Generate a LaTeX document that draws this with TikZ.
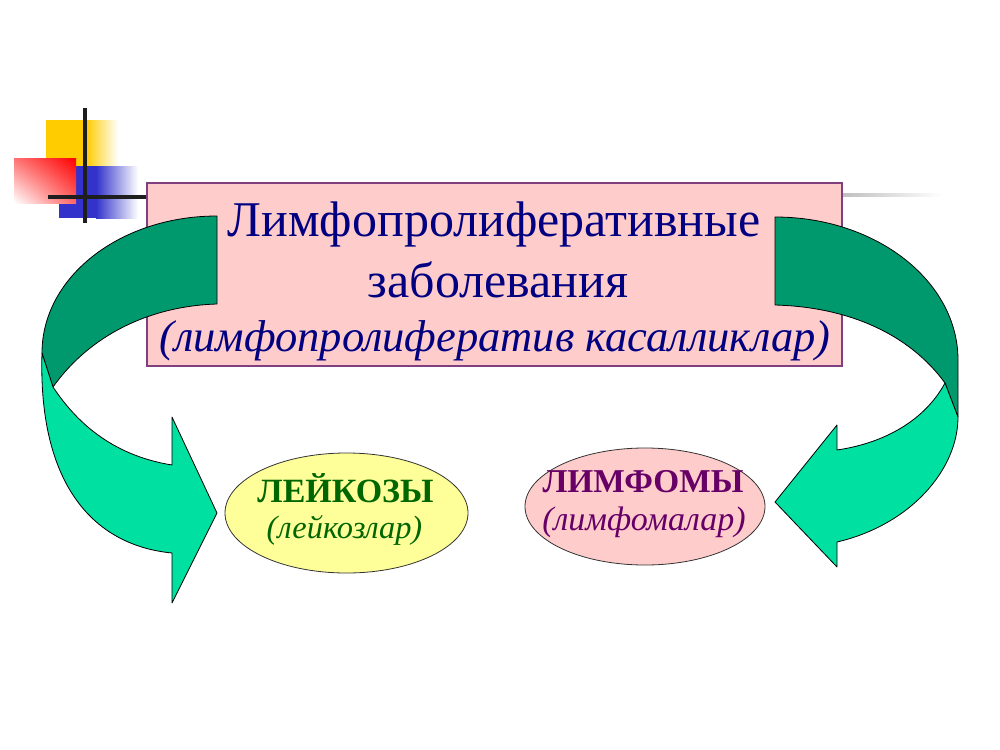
\documentclass[tikz,border=0pt]{standalone}
\usepackage{fontspec}
\setmainfont{Liberation Serif}
\usetikzlibrary{shapes.geometric,shadings}
\definecolor{boxpink}{RGB}{255,204,204}
\definecolor{boxborder}{RGB}{128,64,128}
\definecolor{titleblue}{RGB}{0,0,128}
\definecolor{darkgr}{RGB}{0,153,110}
\definecolor{lightgr}{RGB}{0,224,160}
\definecolor{ellyellow}{RGB}{255,255,153}
\definecolor{txtgreen}{RGB}{0,102,0}
\definecolor{txtpurple}{RGB}{102,0,102}
\definecolor{decoyellow}{RGB}{255,204,0}
\definecolor{decored}{RGB}{255,0,0}
\definecolor{decoblue}{RGB}{51,51,204}
\definecolor{decoline}{RGB}{30,30,30}
\begin{document}
\begin{tikzpicture}[x=0.75pt,y=-0.75pt,
  arrowpart/.style={draw=black, line width=0.6pt, line join=round},
  ellbox/.style={ellipse, draw=black!80, line width=0.6pt, inner sep=0pt},
  titletext/.style={text=titleblue, inner sep=0pt, anchor=base},
  elltext/.style={inner sep=0pt, anchor=base},
  decobar/.style={draw=decoline, line width=2.4pt}]
\useasboundingbox (0,0) rectangle (1000,750);
\fill[white] (0,0) rectangle (1000,750);
% decoration
\fill[decoyellow] (46,120) rectangle (86,190);
\shade[left color=decoyellow, right color=white] (86,120) rectangle (118,190);
\fill[decoblue] (59,166) rectangle (96,218);
\shade[left color=decoblue, right color=white] (96,166) rectangle (138,218);
\shade[upper right=decored, upper left=decored!55!white, lower right=decored!60!white, lower left=white] (14,158) rectangle (76,203);
\draw[decobar] (85,108) -- (85,223);
\draw[decobar] (48,197) -- (148,197);
\shade[left color=black!25, right color=white] (842,193.5) rectangle (942,196.5);
% main box
\node[draw=boxborder, fill=boxpink, line width=0.8pt, minimum width=521.25pt, minimum height=137.25pt, inner sep=0pt] (box) at (494.5,274.5) {};
% left arrow
\fill[arrowpart, fill=darkgr] (217,216) .. controls (120,216) and (42,277) .. (42,353)
  -- (53,387) .. controls (90,335) and (150,306) .. (217,304) -- cycle;
\fill[arrowpart, fill=lightgr] (42,353) .. controls (38,480) and (90,545) .. (172,553)
  -- (172,603) -- (217,513) -- (172,417) -- (172,465)
  .. controls (110,455) and (75,420) .. (53,387) -- cycle;
% right arrow
\fill[arrowpart, fill=darkgr] (775,217) .. controls (876,217) and (958,281) .. (958,360)
  -- (958,417) -- (945,383) .. controls (910,335) and (850,307) .. (775,305) -- cycle;
\fill[arrowpart, fill=lightgr] (945,383) .. controls (925,420) and (885,443) .. (837,450)
  -- (837,425) -- (775,502) -- (837,567) -- (837,542)
  .. controls (910,525) and (958,470) .. (958,417) -- cycle;
% title text
\node[titletext, font=\fontsize{37.5}{44}\selectfont] (t1) at (494,236) {Лимфопролиферативные};
\node[titletext, font=\fontsize{37.5}{44}\selectfont] (t2) at (498,297) {заболевания};
\node[titletext, font=\fontsize{33.4}{40}\selectfont\itshape] (t3) at (495,351) {(лимфопролифератив касалликлар)};
% ellipses
\node[ellbox, fill=ellyellow, minimum width=182.25pt, minimum height=90pt] (leuk) at (346.5,513) {};
\node[elltext, text=txtgreen, font=\fontsize{25.5}{30}\selectfont\bfseries] (leuk1) at (345.5,502) {ЛЕЙКОЗЫ};
\node[elltext, text=txtgreen, font=\fontsize{24.3}{30}\selectfont\itshape] (leuk2) at (344.5,538) {(лейкозлар)};
\node[ellbox, fill=boxpink, minimum width=180pt, minimum height=87.75pt] (lymph) at (645,506.5) {};
\node[elltext, text=txtpurple, font=\fontsize{25}{30}\selectfont\bfseries] (lymph1) at (643,492) {ЛИМФОМЫ};
\node[elltext, text=txtpurple, font=\fontsize{25.5}{30}\selectfont\itshape] (lymph2) at (644,530) {(лимфомалар)};
\end{tikzpicture}
\end{document}
